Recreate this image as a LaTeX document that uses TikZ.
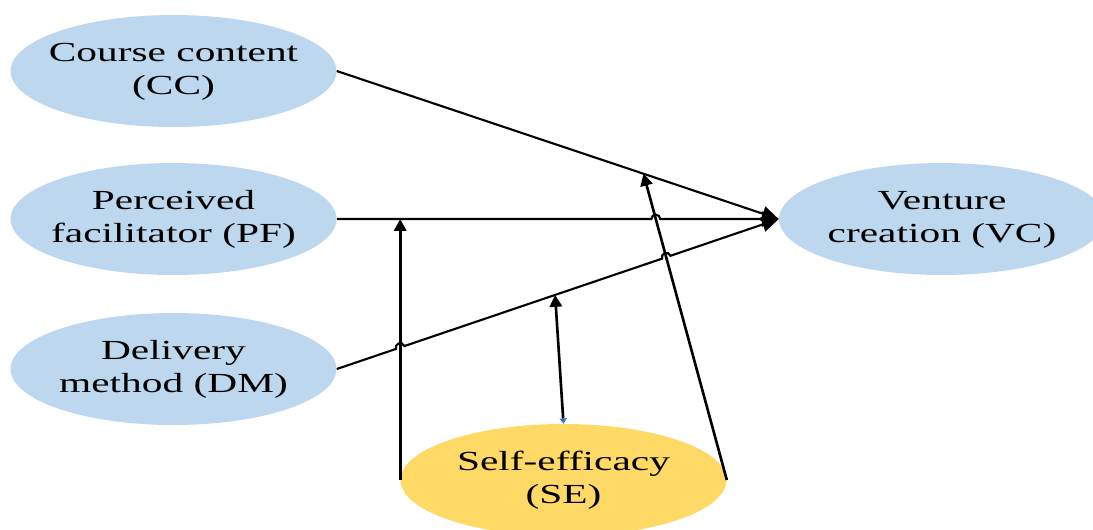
\documentclass[tikz,border=0pt]{standalone}
\usepackage{fontspec}
\setmainfont{Liberation Serif}[FakeStretch=1.5]
\usetikzlibrary{shapes.geometric,arrows.meta,calc}
\definecolor{ovalblue}{RGB}{189,215,238}
\definecolor{ovalyellow}{RGB}{255,217,102}
\definecolor{tipblue}{RGB}{68,114,196}
\newcommand\ovaltext[2]{\makebox[0pt]{\raisebox{-1.6pt}{\begin{tabular}{@{}c@{}}#1\\#2\end{tabular}}}}
\begin{document}
\begin{tikzpicture}[x=0.02cm,y=-0.02cm,
  oval/.style={ellipse,minimum width=6.52cm,minimum height=2.24cm,inner sep=0pt,
    font=\fontsize{15.7pt}{18.7pt}\selectfont},
  blueoval/.style={oval,fill=ovalblue},
  yellowoval/.style={oval,fill=ovalyellow},
  link/.style={line width=1.2pt,-{Triangle[length=9.5pt,width=8.5pt]}},
  selink/.style={line width=1.5pt,-{Triangle[length=6.8pt,width=7pt]}}]
\useasboundingbox (0,0) rectangle (1093,529);
\clip (0,0) rectangle (1093,529);
\node[blueoval] (CC) at (173.5,71) {\ovaltext{Course content}{(CC)}};
\node[blueoval] (PF) at (173.5,219) {\ovaltext{Perceived}{facilitator (PF)}};
\node[blueoval] (DM) at (173.5,369) {\ovaltext{Delivery}{method (DM)}};
\node[blueoval] (VC) at (942,219) {\ovaltext{Venture}{creation (VC)}};
\node[yellowoval] (SE) at (563.5,480) {\ovaltext{Self-efficacy}{(SE)}};
% target points
\coordinate (T) at ($(CC.east)!0.694!(VC.west)$);
\coordinate (M) at ($(DM.east)!0.494!(VC.west)$);
\coordinate (P) at (SE.west |- PF.east);
% crossing points (hops)
\coordinate (h1) at (intersection of DM.east--VC.west and SE.west--P);
\coordinate (h2) at (intersection of DM.east--VC.west and SE.east--T);
\coordinate (h3) at (intersection of PF.east--VC.west and SE.east--T);
% connectors
\draw[link] (CC.east) -- (VC.west);
\draw[link] (PF.east) -- ($(h3)!2.5pt!(PF.east)$) arc[start angle=180,end angle=0,radius=2.5pt] -- (VC.west);
\draw[link] (DM.east) -- ($(h1)!2.5pt!(DM.east)$) arc[start angle=198.79,end angle=18.79,radius=2.5pt]
  -- ($(h2)!2.5pt!(DM.east)$) arc[start angle=198.79,end angle=18.79,radius=2.5pt] -- (VC.west);
\draw[selink] (SE.west) -- (P);
\draw[line width=1.5pt,{Triangle[length=3pt,width=4pt,color=tipblue]}-{Triangle[length=6.8pt,width=7pt]}] (SE.north) -- (M);
\draw[selink] (SE.east) -- (T);
\end{tikzpicture}
\end{document}
